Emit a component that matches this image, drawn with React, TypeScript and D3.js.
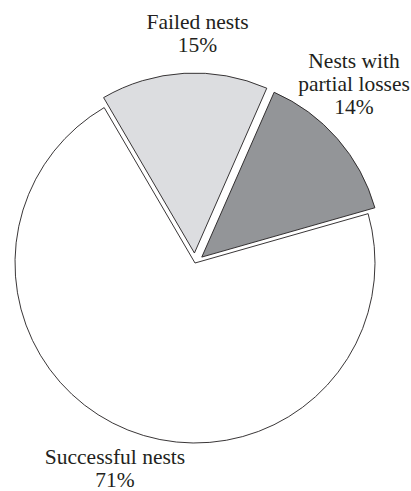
import React from "react";
import * as d3 from "d3";

const categories = ["Failed nests", "Nests with partial losses", "Successful nests"];
const values = [15, 14, 71];
const percentLabels = ["15%", "14%", "71%"];
const labelLines = [["Failed nests"], ["Nests with", "partial losses"], ["Successful nests"]];
const colors = ["#dcdde0", "#939598", "#ffffff"];

const W = 411;
const H = 491;
const CX = 195;
const CY = 263;
const R = 180;
const EXPLODE = [10, 9, 0];
const START_DEG = -30.3;
const FONT = "Liberation Serif, Times New Roman, Times, serif";
const FONT_SIZE = 21.5;
const LINE_H = 23;

const labelPos: [number, number][] = [
  [197.5, 29],
  [354, 68],
  [115, 464],
];

export default function App() {
  const start = (START_DEG * Math.PI) / 180;
  const pie = d3
    .pie<number>()
    .sort(null)
    .startAngle(start)
    .endAngle(start + 2 * Math.PI);
  const arcs = pie(values);
  const arc = d3.arc<d3.PieArcDatum<number>>().innerRadius(0).outerRadius(R);

  return (
    <svg
      width={W}
      height={H}
      style={{ position: "absolute", left: 0, top: 0, background: "#fff" }}
    >
      <rect width={W} height={H} fill="#fff" />
      {arcs.map((a, i) => {
        const mid = (a.startAngle + a.endAngle) / 2;
        const dx = Math.sin(mid) * EXPLODE[i];
        const dy = -Math.cos(mid) * EXPLODE[i];
        return (
          <path
            key={categories[i]}
            d={arc(a) || ""}
            transform={`translate(${CX + dx},${CY + dy})`}
            fill={colors[i]}
            stroke="#231f20"
            strokeWidth={0.9}
            strokeLinejoin="miter"
          />
        );
      })}
      {labelLines.map((lines, i) => {
        const [x, y] = labelPos[i];
        const all = [...lines, percentLabels[i]];
        return (
          <text
            key={categories[i]}
            x={x}
            y={y}
            textAnchor="middle"
            style={{ fontFamily: FONT, fontSize: FONT_SIZE }}
            fill="#231f20"
          >
            {all.map((t, j) => (
              <tspan key={j} x={x} y={y + j * LINE_H}>
                {t}
              </tspan>
            ))}
          </text>
        );
      })}
    </svg>
  );
}
